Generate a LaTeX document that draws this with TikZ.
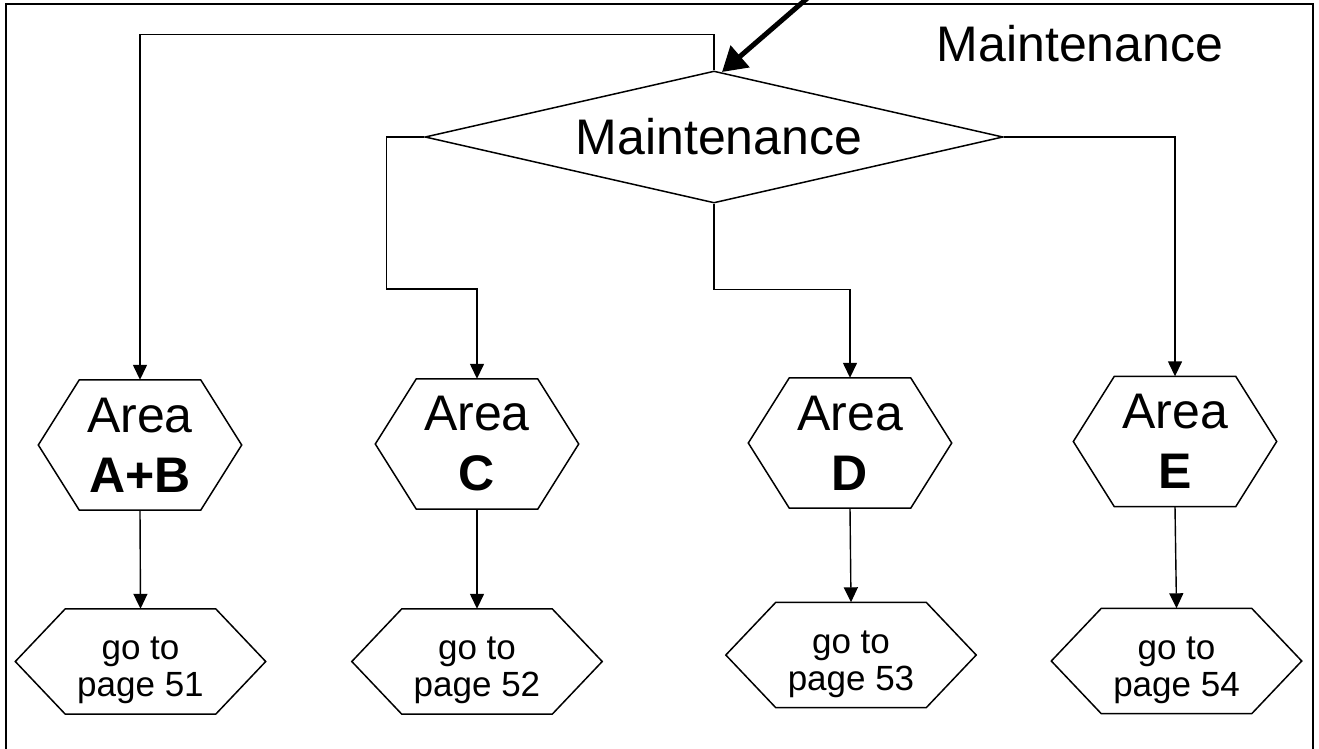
\documentclass[tikz,border=0pt]{standalone}
\usepackage{fontspec}
\setmainfont{Liberation Sans}
\usetikzlibrary{shapes.geometric,arrows.meta}

\tikzset{
  frame/.style={line width=2pt},
  outline/.style={line width=1.5pt, line join=miter},
  conn/.style={line width=1.4pt, -{Triangle[length=15pt,width=14pt]}},
  bigarrow/.style={line width=5pt, -{Triangle[length=24pt,width=28pt]}},
  decision/.style={diamond, draw, outline, inner sep=0pt, shape aspect=4.38,
    minimum width=578pt, minimum height=132pt,
    font=\fontsize{50}{58}\selectfont},
  areabox/.style={rectangle, inner sep=0pt, minimum width=203pt, minimum height=130pt},
  areatext/.style={align=center, inner sep=0pt, font=\fontsize{50}{60}\selectfont},
  gotobox/.style={rectangle, inner sep=0pt, minimum width=250pt, minimum height=105pt},
  gototext/.style={align=center, inner sep=0pt, yshift=-9pt,
    font=\fontsize{35}{37}\selectfont},
  title/.style={anchor=base, inner sep=0pt, font=\fontsize{50}{58}\selectfont}
}

\begin{document}
\begin{tikzpicture}[x=1pt,y=-1pt]
  \useasboundingbox (0,0) rectangle (1319,748);

  % outer frame
  \draw[frame] (5.5,4) rectangle (1313,752);

  % title in the top right corner
  \node[title] (ttl) at (1080,61) {Maintenance};

  % decision
  \node[decision] (dia) at (714,137) {\hspace*{10pt}Maintenance};

  % area hexagons
  \node[areabox, label={[areatext]center:Area\\\textbf{A+B}}] (ab) at (140,445) {};
  \node[areabox, label={[areatext]center:Area\\\textbf{C}}]   (c)  at (477,444) {};
  \node[areabox, label={[areatext]center:Area\\\textbf{D}}]   (d)  at (850,443) {};
  \node[areabox, label={[areatext]center:Area\\\textbf{E}}]   (e)  at (1175,441.5) {};

  % page references
  \node[gotobox, label={[gototext]center:go to\\page 51}] (g1) at (140.5,661.5) {};
  \node[gotobox, label={[gototext]center:go to\\page 52}] (g2) at (477,661.5) {};
  \node[gotobox, label={[gototext]center:go to\\page 53}] (g3) at (851,655) {};
  \node[gotobox, label={[gototext]center:go to\\page 54}] (g4) at (1176.5,661) {};

  % hexagon outlines around the box nodes
  \foreach \n/\k in {ab/41,c/41,d/41,e/41,g1/50,g2/50,g3/50,g4/50}{
    \draw[outline] (\n.west) -- ([xshift=\k pt]\n.north west)
      -- ([xshift=-\k pt]\n.north east) -- (\n.east)
      -- ([xshift=-\k pt]\n.south east) -- ([xshift=\k pt]\n.south west) -- cycle;
  }

  % entry arrow
  \coordinate (src) at (811,-5);
  \coordinate (entry) at (722,72);
  \draw[bigarrow] (src) -- (entry);

  % branches out of the decision
  \draw[conn] (dia.north) -- ++(0,-36) -| (ab.north);
  \draw[conn] (dia.west) -- ++(-38,0) -- ++(0,152) -| (c.north);
  \draw[conn] (dia.south) -- ++(0,86) -| (d.north);
  \draw[conn] (dia.east) -| (e.north);

  % areas to pages
  \draw[conn] (ab.south) -- (g1.north);
  \draw[conn] (c.south) -- (g2.north);
  \draw[conn] (d.south) -- (g3.north);
  \draw[conn] (e.south) -- (g4.north);
\end{tikzpicture}
\end{document}
